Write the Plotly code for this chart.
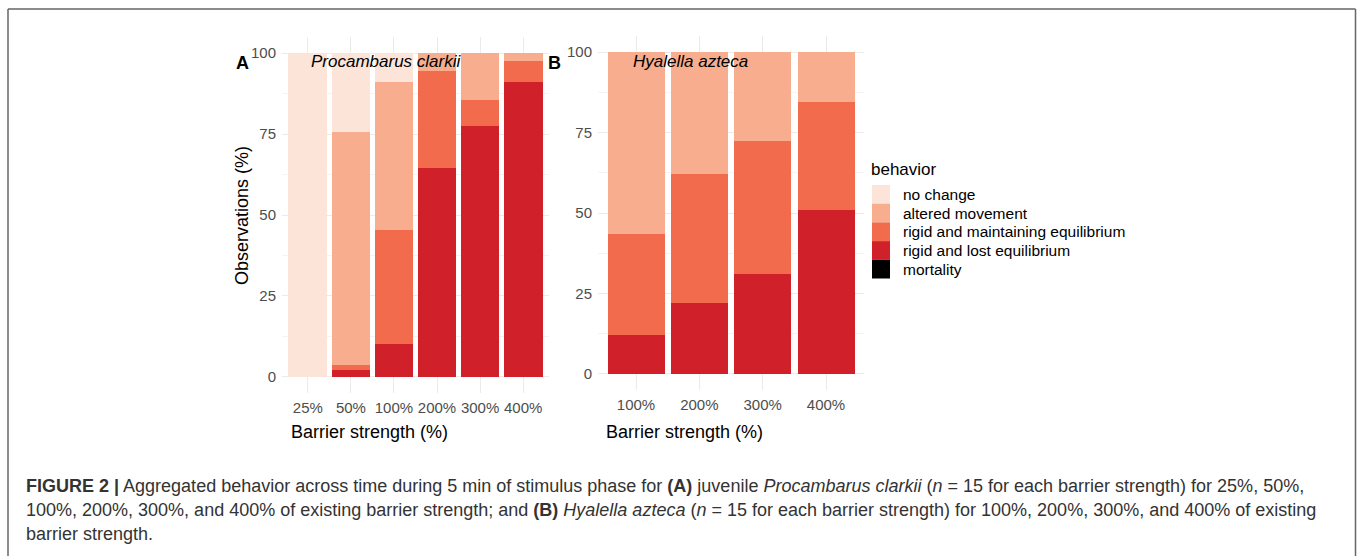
import plotly.graph_objects as go

# Data (percent of observations per behavior)

behaviors = ['no change', 'altered movement', 'rigid and maintaining equilibrium',
             'rigid and lost equilibrium', 'mortality']
behavior_colors = ['#FCE4D9', '#F8AD8E', '#F26B4C', '#D0212A', '#000000']

a_strength = ['25%', '50%', '100%', '200%', '300%', '400%']
a_no_change = [100, 24.5, 9, 0, 0, 0]
a_altered = [0, 72, 45.5, 5.5, 14.5, 2.5]
a_maintaining = [0, 1.5, 35.5, 30, 8, 6.5]
a_lost = [0, 2, 10, 64.5, 77.5, 91]
a_mortality = [0, 0, 0, 0, 0, 0]

b_strength = ['100%', '200%', '300%', '400%']
b_no_change = [0, 0, 0, 0]
b_altered = [56.5, 38, 27.5, 15.5]
b_maintaining = [31.5, 40, 41.5, 33.5]
b_lost = [12, 22, 31, 51]
b_mortality = [0, 0, 0, 0]

W, H = 1357, 556
FONT = 'Liberation Sans, Arial, sans-serif'


# pixel helpers so the layout can be placed like the picture
def px_x(x):
    return x / W


def px_y(y):
    return 1 - y / H


def add_panel(fig, cats, series, xaxis, yaxis):
    # ggplot stacks the first level on top, so plotly gets them bottom first
    for name, color, values in reversed(list(zip(behaviors, behavior_colors, series))):
        fig.add_trace(go.Bar(x=cats, y=values, name=name, marker_color=color,
                             marker_line_width=0, xaxis=xaxis, yaxis=yaxis, showlegend=False))


def add_text(fig, x, y, text, size, angle=0, xanchor='center', color='black'):
    fig.add_annotation(x=px_x(x), y=px_y(y), xref='paper', yref='paper', text=text, showarrow=False,
                       textangle=angle, xanchor=xanchor, yanchor='middle',
                       font=dict(size=size, family=FONT, color=color))


fig = go.Figure()
add_panel(fig, a_strength, [a_no_change, a_altered, a_maintaining, a_lost, a_mortality], 'x', 'y')
add_panel(fig, b_strength, [b_no_change, b_altered, b_maintaining, b_lost, b_mortality], 'x2', 'y2')

grid = dict(showgrid=True, gridcolor='#EBEBEB', gridwidth=1, zeroline=False, showline=False,
            ticks='', tickfont=dict(size=15, color='#4D4D4D', family=FONT))
yaxis_common = dict(grid, range=[-5, 105], tickvals=[0, 25, 50, 75, 100], ticklabelstandoff=5,
                    minor=dict(tickvals=[12.5, 37.5, 62.5, 87.5], showgrid=True, gridcolor='#F4F4F4'))
xaxis_common = dict(grid, type='category', ticklabelstandoff=4)

fig.update_layout(
    width=W, height=H, template='none', barmode='stack', bargap=0.1,
    paper_bgcolor='white', plot_bgcolor='white',
    margin=dict(l=0, r=0, t=0, b=0),
    font=dict(family=FONT, color='black'),
    showlegend=False,
    xaxis=dict(xaxis_common, domain=[px_x(282), px_x(549)], range=[-0.6, 5.6]),
    yaxis=dict(yaxis_common, domain=[px_y(393), px_y(37)]),
    xaxis2=dict(xaxis_common, domain=[px_x(598), px_x(864)], range=[-0.6, 3.6], anchor='y2'),
    yaxis2=dict(yaxis_common, domain=[px_y(390), px_y(36)], anchor='x2'),
)

# panel letters, titles and axis titles
add_text(fig, 242, 63, '<b>A</b>', 18)
add_text(fig, 386, 62, '<i>Procambarus clarkii</i>', 17)
add_text(fig, 554, 63, '<b>B</b>', 18)
add_text(fig, 690, 62, '<i>Hyalella azteca</i>', 17)
add_text(fig, 242, 216, 'Observations (%)', 18, angle=-90)
add_text(fig, 369, 432, 'Barrier strength (%)', 18)
add_text(fig, 684, 432, 'Barrier strength (%)', 18)

# legend drawn like the ggplot guide: stacked keys with labels
add_text(fig, 869, 169, 'behavior', 17, xanchor='left')
key_top, key_h = 185, 18.7
for i, (name, color) in enumerate(zip(behaviors, behavior_colors)):
    y0 = key_top + i * key_h
    fig.add_shape(type='rect', xref='paper', yref='paper', x0=px_x(872), x1=px_x(890),
                  y0=px_y(y0 + key_h), y1=px_y(y0), fillcolor=color, line_width=0)
    add_text(fig, 901, y0 + key_h / 2, name, 15.5, xanchor='left')

# figure caption, one line per annotation
caption = [
    '<b>FIGURE 2 |</b> Aggregated behavior across time during 5 min of stimulus phase for <b>(A)</b> juvenile '
    '<i>Procambarus clarkii</i> (<i>n</i> = 15 for each barrier strength) for 25%, 50%,',
    '100%, 200%, 300%, and 400% of existing barrier strength; and <b>(B)</b> <i>Hyalella azteca</i> '
    '(<i>n</i> = 15 for each barrier strength) for 100%, 200%, 300%, and 400% of existing',
    'barrier strength.',
]
for i, line in enumerate(caption):
    add_text(fig, 24, 486 + 24 * i, line, 18, xanchor='left', color='#333333')

# frame around the whole figure
frame = dict(type='line', xref='paper', yref='paper', line=dict(color='#666666', width=1.5))
fig.add_shape(frame, x0=px_x(8), x1=px_x(8), y0=0, y1=px_y(9))
fig.add_shape(frame, x0=px_x(1355.5), x1=px_x(1355.5), y0=0, y1=px_y(9))
fig.add_shape(frame, x0=px_x(8), x1=px_x(1355.5), y0=px_y(9), y1=px_y(9))

fig.write_html('out.html', config={'displayModeBar': False},
               post_script="document.body.style.margin='0';")
